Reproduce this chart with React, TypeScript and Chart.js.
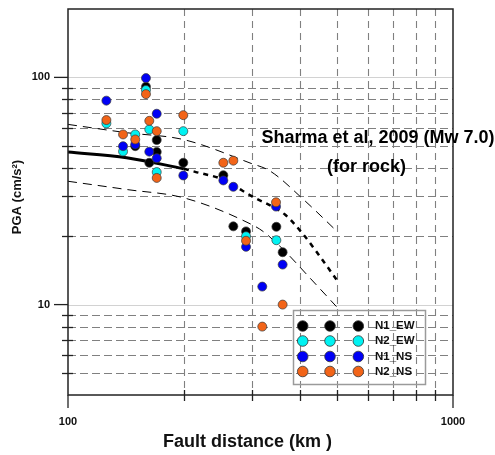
import React, { useEffect, useRef } from 'react';
import { Chart, registerables } from 'chart.js';

Chart.register(...registerables);

// ---- Data ----
const N1_EW_DIST = [149.5, 159.4, 162.6, 170, 170, 199.3, 253.2, 268.8, 290, 347.7, 361];
const N1_EW_PGA = [49.8, 91, 42.1, 53, 47, 42.1, 37.1, 22.1, 21.0, 22.0, 17.0];

const N2_EW_DIST = [125.8, 139, 149.5, 159.4, 162.6, 170, 199.3, 290, 347.7];
const N2_EW_PGA = [62.7, 47.2, 56.1, 88, 59, 38.3, 58, 20.0, 19.2];

const N1_NS_DIST = [125.8, 139, 149.5, 159.4, 162.6, 170, 170, 199.3, 253.2, 268.8, 290, 319.6, 347, 361];
const N1_NS_PGA = [79, 49.8, 50.7, 99.3, 47.1, 69.2, 44.1, 37, 35.2, 33.0, 17.96, 12.0, 27.0, 15.0];

const N2_NS_DIST = [125.8, 139, 149.5, 159.4, 162.6, 170, 170, 199.3, 253.2, 268.8, 290, 319.6, 347, 361];
const N2_NS_PGA = [64.9, 56.1, 53.3, 84.4, 64.4, 58, 36.1, 68.2, 42.1, 43.0, 19.1, 8.0, 28.2, 10.0];

// Sharma et al. 2009 (Mw 7.0) curves
const MEDIAN_SOLID_DIST = [100, 142, 200];
const MEDIAN_SOLID_PGA = [46.9, 44.3, 39.6];
const MEDIAN_DASH_DIST = [200, 214, 253, 284, 300, 366, 409, 451, 498];
const MEDIAN_DASH_PGA = [39.6, 38.4, 35.5, 31.7, 30, 24.9, 20.3, 16.3, 12.9];
const UPPER_DIST = [100, 142, 200, 297, 335, 409, 494];
const UPPER_PGA = [62.1, 57.1, 53.2, 42, 38.7, 29, 21.4];
const LOWER_DIST = [100, 142, 200, 300, 321, 362, 425, 498];
const LOWER_PGA = [34.9, 32.1, 29.5, 22.5, 21, 17.5, 13.1, 9.8];

// Axes / ticks
const X_MIN = 100;
const X_MAX = 1000;
const Y_MIN = 4;
const Y_MAX = 200;
const X_MINOR_TICKS = [200, 300, 400, 500, 600, 700, 800, 900];
const X_MAJOR_TICKS = [100, 1000];
const X_TICK_LABELS = ['100', '1000'];
const Y_MINOR_TICKS = [5, 6, 7, 8, 9, 20, 30, 40, 50, 60, 70, 80, 90];
const Y_MAJOR_TICKS = [10, 100];
const Y_TICK_LABELS = ['10', '100'];

const SERIES_NAMES = ['N1_EW', 'N2_EW', 'N1_NS', 'N2_NS'];
const SERIES_COLORS = ['#000000', '#00F2F2', '#0000F5', '#F26418'];

const X_TITLE = 'Fault distance (km )';
const Y_TITLE = 'PGA (cm/s\u00B2)';
const NOTE_LINE1 = 'Sharma et al, 2009 (Mw 7.0)';
const NOTE_LINE2 = '(for rock)';

const FONT = '"Liberation Sans", Arial, sans-serif';

const zip = (xs: number[], ys: number[]) => xs.map((x, i) => ({ x, y: ys[i] }));

const decorPlugin = {
  id: 'decor',
  beforeDatasetsDraw(chart: any) {
    const { ctx, chartArea: a, scales } = chart;
    const x = scales.x;
    const y = scales.y;
    ctx.save();
    ctx.lineWidth = 1;
    // major horizontal light lines
    ctx.strokeStyle = '#d2d2d2';
    ctx.setLineDash([]);
    Y_MAJOR_TICKS.forEach((v) => {
      const py = Math.round(y.getPixelForValue(v)) + 0.5;
      ctx.beginPath();
      ctx.moveTo(a.left, py);
      ctx.lineTo(a.right, py);
      ctx.stroke();
    });
    // minor horizontal dashed
    ctx.strokeStyle = '#808080';
    ctx.lineWidth = 1.1;
    ctx.setLineDash([8, 4]);
    Y_MINOR_TICKS.forEach((v) => {
      const py = Math.round(y.getPixelForValue(v)) + 0.5;
      ctx.beginPath();
      ctx.moveTo(a.left, py);
      ctx.lineTo(a.right, py);
      ctx.stroke();
    });
    // vertical dashed
    ctx.setLineDash([7, 5]);
    X_MINOR_TICKS.forEach((v) => {
      const px = Math.round(x.getPixelForValue(v)) + 0.5;
      ctx.beginPath();
      ctx.moveTo(px, a.top);
      ctx.lineTo(px, a.bottom);
      ctx.stroke();
    });
    ctx.restore();
  },
  afterDatasetsDraw(chart: any) {
    const { ctx, chartArea: a, scales } = chart;
    const x = scales.x;
    const y = scales.y;
    ctx.save();
    ctx.setLineDash([]);
    // frame
    ctx.strokeStyle = '#222';
    ctx.lineWidth = 1.5;
    ctx.strokeRect(a.left, a.top, a.right - a.left, a.bottom - a.top);

    // x ticks
    ctx.lineWidth = 1.3;
    X_MAJOR_TICKS.forEach((v) => {
      const px = x.getPixelForValue(v);
      ctx.beginPath();
      ctx.moveTo(px, a.bottom);
      ctx.lineTo(px, a.bottom + 13);
      ctx.stroke();
    });
    X_MINOR_TICKS.forEach((v) => {
      const px = Math.round(x.getPixelForValue(v)) + 0.5;
      ctx.beginPath();
      ctx.moveTo(px, a.bottom - 5);
      ctx.lineTo(px, a.bottom + 6);
      ctx.stroke();
    });
    // y ticks
    Y_MAJOR_TICKS.forEach((v) => {
      const py = y.getPixelForValue(v);
      ctx.beginPath();
      ctx.moveTo(a.left - 14, py);
      ctx.lineTo(a.left, py);
      ctx.stroke();
    });
    Y_MINOR_TICKS.forEach((v) => {
      const py = Math.round(y.getPixelForValue(v)) + 0.5;
      ctx.beginPath();
      ctx.moveTo(a.left - 6, py);
      ctx.lineTo(a.left + 5, py);
      ctx.stroke();
    });

    // tick labels
    ctx.fillStyle = '#111';
    ctx.font = `bold 11px ${FONT}`;
    ctx.textAlign = 'center';
    ctx.textBaseline = 'middle';
    X_MAJOR_TICKS.forEach((v, i) => {
      ctx.fillText(X_TICK_LABELS[i], x.getPixelForValue(v), a.bottom + 27);
    });
    ctx.textAlign = 'right';
    Y_MAJOR_TICKS.forEach((v, i) => {
      ctx.fillText(Y_TICK_LABELS[i], a.left - 18, y.getPixelForValue(v));
    });

    // axis titles
    ctx.font = `bold 18px ${FONT}`;
    ctx.textAlign = 'center';
    ctx.fillText(X_TITLE, (a.left + a.right) / 2 - 13, a.bottom + 47);
    ctx.save();
    ctx.translate(17, 197);
    ctx.rotate(-Math.PI / 2);
    ctx.font = `bold 13px ${FONT}`;
    ctx.fillText(Y_TITLE, 0, 0);
    ctx.restore();

    // annotation
    ctx.font = `bold 18px ${FONT}`;
    ctx.fillStyle = '#000';
    ctx.fillText(NOTE_LINE1, 378, 138);
    ctx.fillText(NOTE_LINE2, 366.5, 167);

    // legend
    const lx = 293.5;
    const ly = 310.5;
    ctx.strokeStyle = '#9a9a9a';
    ctx.lineWidth = 1.5;
    ctx.strokeRect(lx, ly, 132, 74);
    const colX = [302.7, 330, 358.3];
    const rowY = [326, 341, 356.5, 371.5];
    SERIES_NAMES.forEach((name, i) => {
      colX.forEach((cx) => {
        ctx.beginPath();
        ctx.arc(cx, rowY[i], 5.3, 0, Math.PI * 2);
        ctx.fillStyle = SERIES_COLORS[i];
        ctx.fill();
        ctx.strokeStyle = '#333';
        ctx.lineWidth = 0.8;
        ctx.stroke();
      });
      ctx.fillStyle = '#111';
      ctx.font = `bold 11.5px ${FONT}`;
      ctx.textAlign = 'left';
      ctx.fillText(name, 375, rowY[i]);
    });
    ctx.restore();
  },
};

export default function App() {
  const ref = useRef<HTMLCanvasElement | null>(null);
  useEffect(() => {
    if (!ref.current) return;
    const pointDs = (i: number, xs: number[], ys: number[], order: number) => ({
      label: SERIES_NAMES[i],
      data: zip(xs, ys),
      showLine: false,
      pointRadius: 4.5,
      pointBackgroundColor: SERIES_COLORS[i],
      pointBorderColor: '#3a3a3a',
      pointBorderWidth: 0.7,
      order,
    });
    const lineDs = (xs: number[], ys: number[], width: number, dash: number[]) => ({
      label: 'curve',
      data: zip(xs, ys),
      showLine: true,
      borderColor: '#000',
      borderWidth: width,
      borderDash: dash,
      pointRadius: 0,
      cubicInterpolationMode: 'monotone',
      fill: false,
      order: 10,
    });
    const chart = new Chart(ref.current, {
      type: 'scatter',
      data: {
        datasets: [
          pointDs(3, N2_NS_DIST, N2_NS_PGA, 0),
          pointDs(2, N1_NS_DIST, N1_NS_PGA, 1),
          pointDs(1, N2_EW_DIST, N2_EW_PGA, 2),
          pointDs(0, N1_EW_DIST, N1_EW_PGA, 3),
          lineDs(MEDIAN_SOLID_DIST, MEDIAN_SOLID_PGA, 3, []),
          lineDs(MEDIAN_DASH_DIST, MEDIAN_DASH_PGA, 2.5, [5, 5]),
          lineDs(UPPER_DIST, UPPER_PGA, 1, [9, 6]),
          lineDs(LOWER_DIST, LOWER_PGA, 1, [9, 6]),
        ] as any,
      },
      options: {
        responsive: false,
        animation: false,
        devicePixelRatio: 1,
        layout: { padding: { left: 68, right: 42, top: 9, bottom: 60 } },
        scales: {
          x: { type: 'logarithmic', min: X_MIN, max: X_MAX, display: false },
          y: { type: 'logarithmic', min: Y_MIN, max: Y_MAX, display: false },
        },
        plugins: { legend: { display: false }, tooltip: { enabled: false } },
      },
      plugins: [decorPlugin],
    } as any);
    return () => chart.destroy();
  }, []);
  return (
    <div style={{ position: 'fixed', left: 0, top: 0, width: 495, height: 455, background: '#fff' }}>
      <canvas ref={ref} width={495} height={455} style={{ display: 'block' }} />
    </div>
  );
}
